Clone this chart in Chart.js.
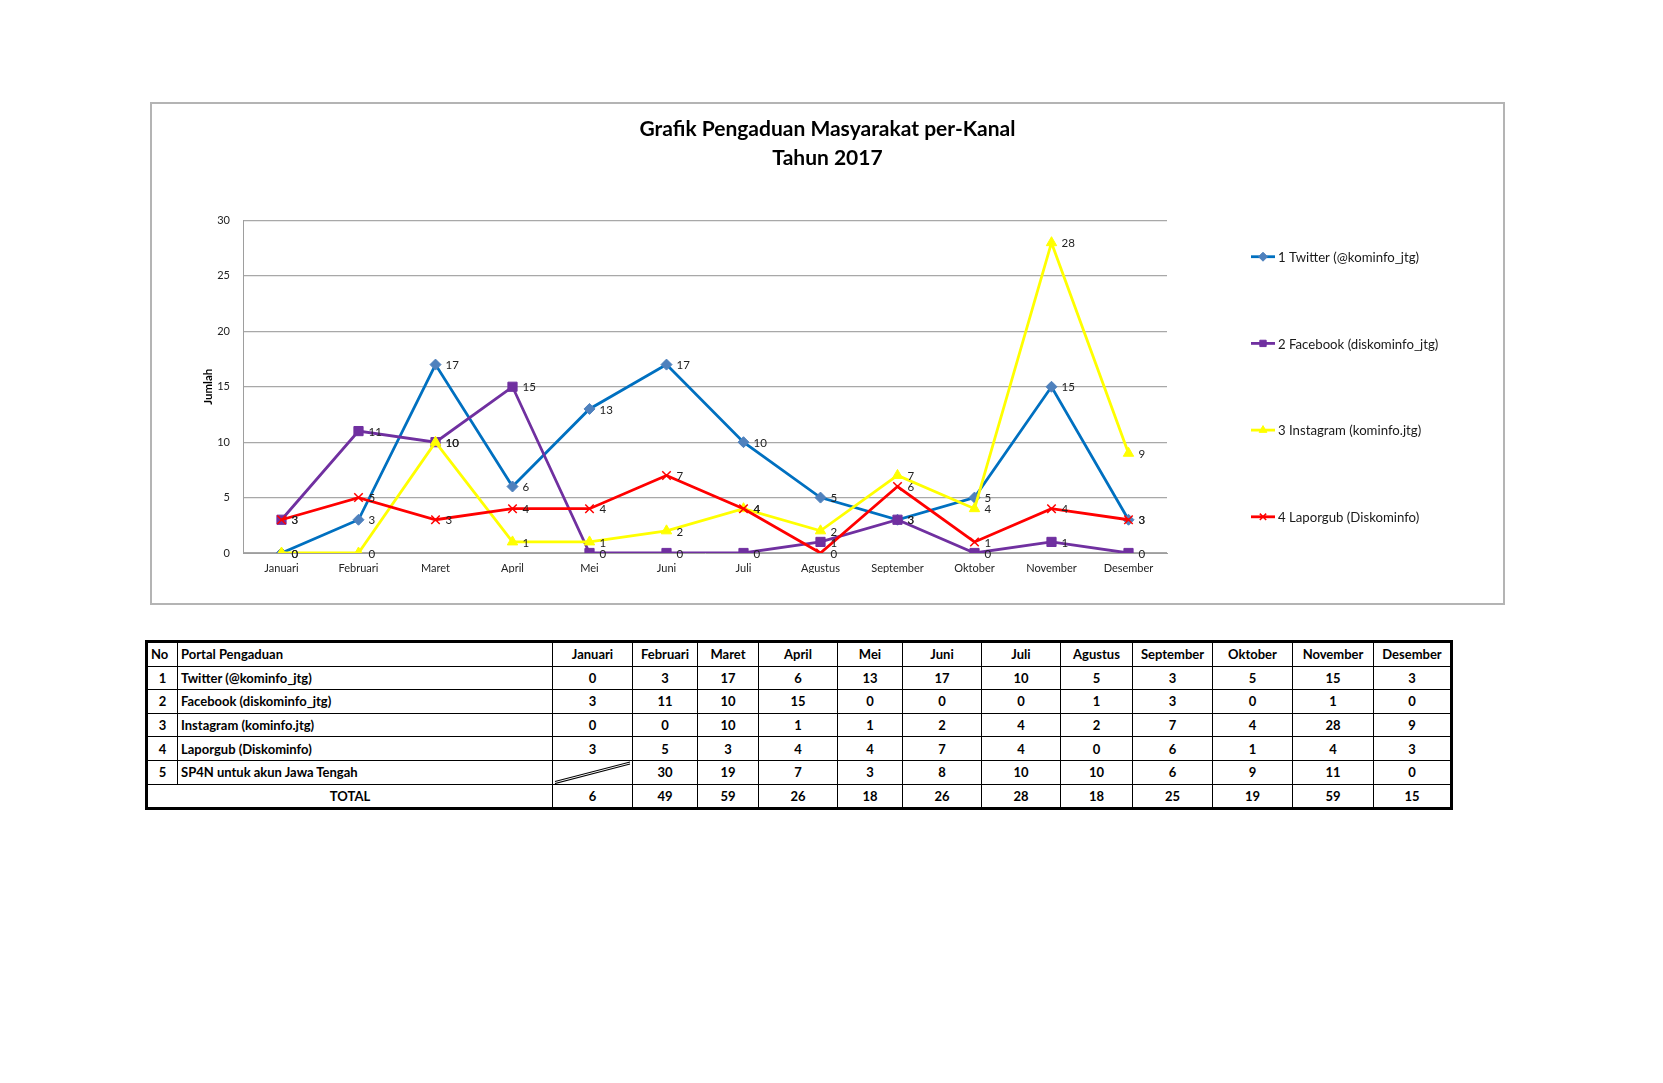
<!DOCTYPE html>
<html>
<head>
<meta charset="utf-8">
<script src="https://cdn.jsdelivr.net/npm/chart.js@4.4.0/dist/chart.umd.min.js"></script>
<style>
  html, body { margin:0; padding:0; background:#fff; }
  body { width:1663px; height:1083px; position:relative; overflow:hidden; font-family: Lato, "Open Sans", sans-serif; }
  #frame { position:absolute; left:150px; top:102px; width:1355px; height:503px; box-sizing:border-box; border:2px solid #b4b4b4; background:#fff; }
  #chart { position:absolute; left:0px; top:0px; }
  #tbl { position:absolute; left:145px; top:640px; border-collapse:collapse; table-layout:fixed; width:1305px; border:3px solid #000; }
  #tbl td { border:1.6px solid #000; height:22.6px; padding:0 3px; font:bold 13px Lato, sans-serif; color:#000; text-align:center; white-space:nowrap; overflow:hidden; }
  #tbl td.l { text-align:left; }
  #tbl td.diag { padding:0; position:relative; }
  #tbl td.diag svg { position:absolute; left:0; top:0; width:100%; height:100%; }
</style>
</head>
<body>
<div id="frame"><canvas id="chart" width="1351" height="499"></canvas></div>
<table id="tbl"></table>
<script>
// ---- data ----
const months = ["Januari","Februari","Maret","April","Mei","Juni","Juli","Agustus","September","Oktober","November","Desember"];
const seriesNames = ["1 Twitter (@kominfo_jtg)","2 Facebook (diskominfo_jtg)","3 Instagram (kominfo.jtg)","4 Laporgub (Diskominfo)"];
const twitter   = [0, 3, 17, 6, 13, 17, 10, 5, 3, 5, 15, 3];
const facebook  = [3, 11, 10, 15, 0, 0, 0, 1, 3, 0, 1, 0];
const instagram = [0, 0, 10, 1, 1, 2, 4, 2, 7, 4, 28, 9];
const laporgub  = [3, 5, 3, 4, 4, 7, 4, 0, 6, 1, 4, 3];
const sp4n      = [null, 30, 19, 7, 3, 8, 10, 10, 6, 9, 11, 0];
const totals    = [6, 49, 59, 26, 18, 26, 28, 18, 25, 19, 59, 15];
const tableNames = ["Twitter (@kominfo_jtg)","Facebook (diskominfo_jtg)","Instagram (kominfo.jtg)","Laporgub (Diskominfo)","SP4N untuk akun Jawa Tengah"];
const yMin = 0, yMax = 30, yStep = 5;

// ---- chart ----
const FONT = 'Lato';
const styles = [
  { line:'#0070C0', fill:'#4F81BD', point:'rectRot', r:5.5 },
  { line:'#7030A0', fill:'#7030A0', point:'rect', r:6.5 },
  { line:'#FFFF00', fill:'#FFFF00', point:'triangle', r:6 },
  { line:'#FF0000', fill:'#FF0000', point:'crossRot', r:6 }
];
const seriesData = [twitter, facebook, instagram, laporgub];

const datasets = seriesData.map((d, i) => ({
  label: seriesNames[i],
  data: d,
  borderColor: styles[i].line,
  backgroundColor: styles[i].fill,
  pointBackgroundColor: styles[i].fill,
  pointBorderColor: styles[i].point === 'crossRot' ? styles[i].line : styles[i].fill,
  pointBorderWidth: styles[i].point === 'crossRot' ? 1.5 : 1,
  pointStyle: styles[i].point,
  pointRadius: styles[i].r,
  borderWidth: 2.8,
  tension: 0,
  order: 4 - i
}));

const valueLabels = {
  id: 'valueLabels',
  afterDatasetsDraw(chart) {
    const ctx = chart.ctx;
    ctx.save();
    ctx.font = '11.5px ' + FONT;
    ctx.fillStyle = '#222';
    ctx.textAlign = 'left';
    ctx.textBaseline = 'middle';
    chart.data.datasets.forEach((ds, i) => {
      const meta = chart.getDatasetMeta(i);
      meta.data.forEach((pt, j) => {
        ctx.fillText(String(ds.data[j]), pt.x + 10, pt.y + 1);
      });
    });
    ctx.restore();
  }
};

const sideLegend = {
  id: 'sideLegend',
  afterDraw(chart) {
    const { ctx, chartArea } = chart;
    const ds = chart.data.datasets;
    const spacing = 86.7;
    const cy = (chartArea.top + chartArea.bottom) / 2;
    const x0 = chartArea.right + 84;
    ctx.save();
    ds.forEach((d, i) => {
      const y = cy + (i - (ds.length - 1) / 2) * spacing;
      ctx.strokeStyle = d.borderColor;
      ctx.lineWidth = 2.8;
      ctx.beginPath();
      ctx.moveTo(x0, y);
      ctx.lineTo(x0 + 24, y);
      ctx.stroke();
      ctx.fillStyle = d.pointBackgroundColor;
      ctx.strokeStyle = d.pointBorderColor;
      ctx.lineWidth = d.pointBorderWidth;
      Chart.helpers.drawPoint(ctx, { pointStyle: d.pointStyle, radius: 4.5, rotation: 0, borderWidth: d.pointBorderWidth }, x0 + 12, y);
      ctx.fillStyle = '#1a1a1a';
      ctx.font = '13.2px ' + FONT;
      ctx.textAlign = 'left';
      ctx.textBaseline = 'middle';
      ctx.fillText(d.label, x0 + 27, y + 1);
    });
    ctx.restore();
  }
};

new Chart(document.getElementById('chart'), {
  type: 'line',
  data: { labels: months, datasets },
  options: {
    responsive: false,
    animation: false,
    devicePixelRatio: 1,
    layout: { padding: { left: 0, right: 0, top: 0, bottom: 30 } },
    plugins: {
      legend: { display: false },
      tooltip: { enabled: false },
      title: {
        display: true,
        text: ["Grafik Pengaduan Masyarakat per-Kanal", "Tahun 2017"],
        color: '#000',
        font: { family: FONT, size: 21, weight: 'bold', lineHeight: 1.36 },
        padding: { top: 11, bottom: 48.4 }
      }
    },
    scales: {
      x: {
        type: 'category',
        offset: true,
        grid: { display: false, drawTicks: false },
        border: { display: true, color: '#9e9e9e', width: 1 },
        ticks: { color: '#222', font: { family: FONT, size: 11 }, padding: 9, maxRotation: 0, autoSkip: false },
        afterFit(s) { s.height = 20; }
      },
      y: {
        min: yMin, max: yMax,
        grid: { color: '#a8a8a8', lineWidth: 1.2, drawTicks: false },
        border: { display: true, color: '#9e9e9e', width: 1 },
        ticks: { stepSize: yStep, color: '#222', font: { family: FONT, size: 11 }, padding: 13 },
        title: { display: true, text: 'Jumlah', color: '#000', font: { family: FONT, size: 11.5, weight: 'bold' }, padding: { top: 49, bottom: 0 } },
        afterFit(s) { s.width = 91; }
      },
      legendSpace: {
        type: 'linear',
        position: 'right',
        display: true,
        grid: { display: false, drawTicks: false },
        border: { display: false },
        ticks: { display: false },
        afterFit(s) { s.width = 336; }
      }
    }
  },
  plugins: [valueLabels, sideLegend]
});

// ---- table ----
const colWidths = [31, 375, 80, 65, 61, 79, 65, 79, 79, 72, 80, 80, 81, 78];
const tbl = document.getElementById('tbl');
const cg = document.createElement('colgroup');
colWidths.forEach(w => { const c = document.createElement('col'); c.style.width = w + 'px'; cg.appendChild(c); });
tbl.appendChild(cg);
function addRow(cells) {
  const tr = document.createElement('tr');
  cells.forEach(c => {
    const td = document.createElement('td');
    if (c.cls) td.className = c.cls;
    if (c.span) td.colSpan = c.span;
    if (c.html) td.innerHTML = c.html; else td.textContent = c.t;
    tr.appendChild(td);
  });
  tbl.appendChild(tr);
}
addRow([{ t: 'No', cls: 'l' }, { t: 'Portal Pengaduan', cls: 'l' }].concat(months.map(m => ({ t: m }))));
const rowsData = [twitter, facebook, instagram, laporgub, sp4n];
rowsData.forEach((r, i) => {
  addRow([{ t: String(i + 1) }, { t: tableNames[i], cls: 'l' }].concat(r.map(v => v === null
    ? { cls: 'diag', html: '<svg viewBox="0 0 80 22" preserveAspectRatio="none"><line x1="2" y1="20" x2="78" y2="1" stroke="#000" stroke-width="1"/><line x1="2" y1="22" x2="78" y2="3" stroke="#000" stroke-width="1"/></svg>' }
    : { t: String(v) })));
});
addRow([{ t: 'TOTAL', span: 2 }].concat(totals.map(v => ({ t: String(v) }))));
</script>
</body>
</html>
